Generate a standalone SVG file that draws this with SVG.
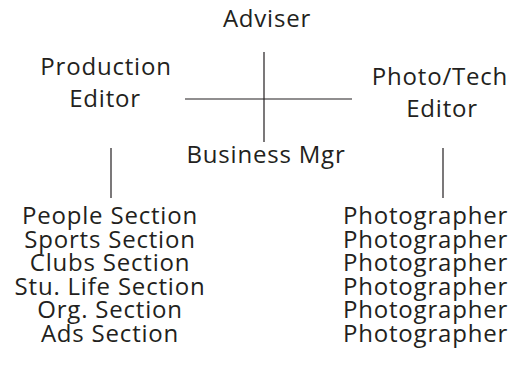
<svg xmlns="http://www.w3.org/2000/svg" width="526" height="391" viewBox="0 0 526 391">
<style>
text{font-family:"Open Sans","Noto Sans",sans-serif;font-size:24px;letter-spacing:0.8px;fill:#231f20}
.m{text-anchor:middle}
.c line{stroke:#231f20;stroke-width:1.2}
</style>
<rect width="526" height="391" fill="#fff"/>
<g class="c" id="connectors">
<line x1="264" y1="52" x2="264" y2="142"/>
<line x1="185" y1="99" x2="352" y2="99"/>
<line x1="111" y1="148" x2="111" y2="198"/>
<line x1="443" y1="148" x2="443" y2="198"/>
</g>
<g id="adviser"><text class="m" x="267" y="27">Adviser</text></g>
<g id="production"><text class="m" x="106" y="75">Production</text><text class="m" x="105" y="107">Editor</text></g>
<g id="phototech"><text class="m" x="440" y="85">Photo/Tech</text><text class="m" x="442" y="117">Editor</text></g>
<g id="business"><text class="m" x="266" y="163">Business Mgr</text></g>
<g id="sections">
<text class="m" x="110" y="224">People Section</text>
<text class="m" x="110" y="247.5">Sports Section</text>
<text class="m" x="110" y="271">Clubs Section</text>
<text class="m" x="110" y="294.5">Stu. Life Section</text>
<text class="m" x="110" y="318">Org. Section</text>
<text class="m" x="110" y="341.5">Ads Section</text>
</g>
<g id="photographers">
<text x="343" y="224">Photographer</text>
<text x="343" y="247.5">Photographer</text>
<text x="343" y="271">Photographer</text>
<text x="343" y="294.5">Photographer</text>
<text x="343" y="318">Photographer</text>
<text x="343" y="341.5">Photographer</text>
</g>
</svg>
